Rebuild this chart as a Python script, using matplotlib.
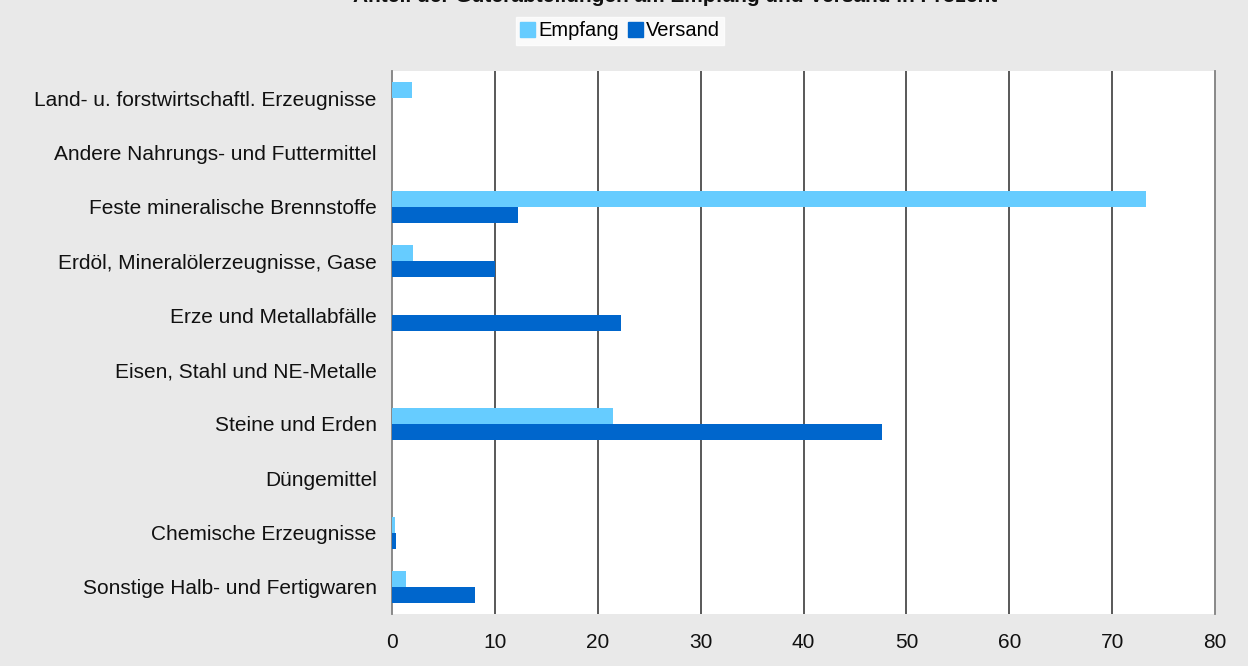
import matplotlib
matplotlib.use("Agg")
import matplotlib.pyplot as plt
import numpy as np
from matplotlib.patches import Patch

categories = [
    "Land- u. forstwirtschaftl. Erzeugnisse",
    "Andere Nahrungs- und Futtermittel",
    "Feste mineralische Brennstoffe",
    "Erdöl, Mineralölerzeugnisse, Gase",
    "Erze und Metallabfälle",
    "Eisen, Stahl und NE-Metalle",
    "Steine und Erden",
    "Düngemittel",
    "Chemische Erzeugnisse",
    "Sonstige Halb- und Fertigwaren",
]
empfang = [1.9, 0, 73.3, 2.05, 0, 0, 21.5, 0, 0.3, 1.35]
versand = [0, 0, 12.25, 10.0, 22.3, 0, 47.6, 0, 0.4, 8.1]
xticks = [0, 10, 20, 30, 40, 50, 60, 70, 80]
title = "Anteil der Güterabteilungen am Empfang und Versand in Prozent"

plt.rcParams['font.family'] = ['Liberation Sans', 'DejaVu Sans']

W, H = 1248, 666
fig = plt.figure(figsize=(W / 100, H / 100), dpi=100, facecolor='#E9E9E9')
ax = fig.add_axes([392 / W, 1 - 614 / H, (1215 - 392) / W, (614 - 71) / H])
ax.set_facecolor('white')

y = np.arange(len(categories))
bh = 0.295
c_emp = '#66CCFF'
c_ver = '#0066CC'
ax.barh(y - bh / 2, empfang, height=bh, color=c_emp, zorder=3)
ax.barh(y + bh / 2, versand, height=bh, color=c_ver, zorder=3)

ax.set_ylim(len(categories) - 0.5, -0.5)
ax.set_xlim(0, 80)
ax.set_xticks(xticks)
ax.set_xticklabels([str(t) for t in xticks], fontsize=15, color='#111111')
ax.set_yticks(y)
ax.set_yticklabels(categories, fontsize=15, color='#111111')
ax.tick_params(axis='both', length=0)
ax.tick_params(axis='y', pad=11)
ax.tick_params(axis='x', pad=14)

for t in xticks[1:-1]:
    ax.axvline(t, color='#2b2b2b', linewidth=1.1, zorder=2)
for s in ['top', 'bottom']:
    ax.spines[s].set_visible(False)
ax.spines['left'].set_color('#808080')
ax.spines['left'].set_linewidth(1.3)
ax.spines['right'].set_color('#808080')
ax.spines['right'].set_linewidth(1.3)

handles = [Patch(color=c_emp, label='Empfang'), Patch(color=c_ver, label='Versand')]
leg = fig.legend(handles=handles, loc='center', bbox_to_anchor=(620 / W, 1 - 31 / H),
                 ncol=2, frameon=True, fontsize=14.5, handlelength=0.75, handleheight=0.75,
                 handletextpad=0.15, columnspacing=0.45, borderpad=0.2, fancybox=False,
                 borderaxespad=0)
leg.get_frame().set_facecolor('white')
leg.get_frame().set_edgecolor('white')

# Title is cut off at the top edge in the reference as well
fig.text(675 / W, 1 - 2 / H, title, ha='center', va='baseline', fontsize=15,
         fontweight='bold', color='#111111')

fig.savefig('out.png', dpi=100, facecolor=fig.get_facecolor())
